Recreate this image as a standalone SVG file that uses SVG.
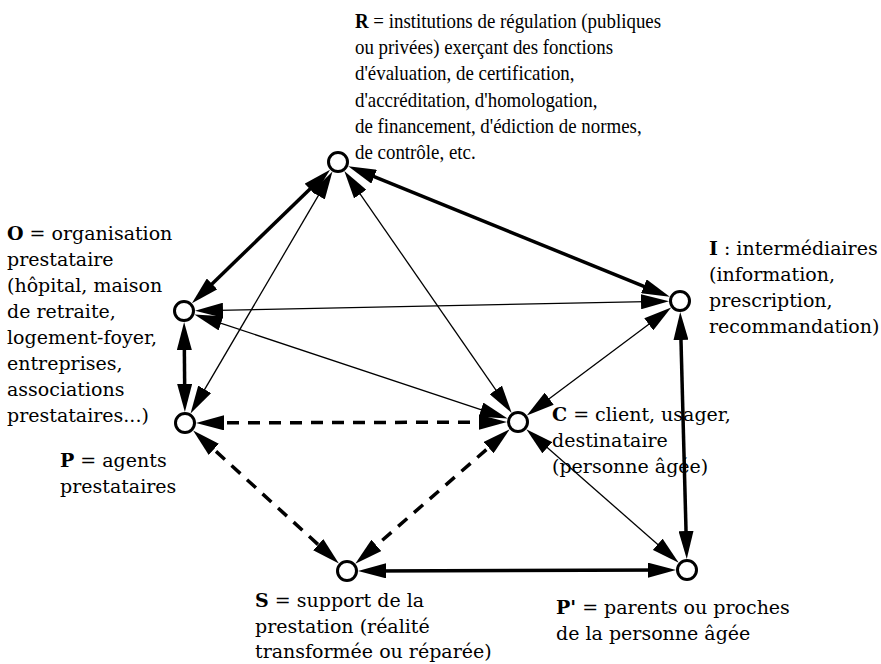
<svg xmlns="http://www.w3.org/2000/svg" width="881" height="664" viewBox="0 0 881 664">
<style>
.bg{fill:#fff}
.nd{fill:#fff;stroke:#000;stroke-width:3}
.thin{stroke:#000;stroke-width:1.3;fill:none;marker-start:url(#ah);marker-end:url(#ah)}
.thick{stroke:#000;stroke-width:3.5;fill:none;marker-start:url(#ah);marker-end:url(#ah)}
.dash{stroke:#000;stroke-width:3.5;fill:none;stroke-dasharray:12 9;marker-start:url(#ah);marker-end:url(#ah)}
.lbl{font-family:"DejaVu Serif","Liberation Serif",serif;font-size:19px;fill:#000}
.lblr{font-family:"Liberation Serif","Times New Roman",serif;font-size:21px;fill:#000}
.b{font-weight:bold}
</style>
<defs>
<marker id="ah" viewBox="0 0 28 15" refX="18" refY="7.5" markerWidth="28" markerHeight="15" markerUnits="userSpaceOnUse" orient="auto-start-reverse">
<path d="M0,0 L28,7.5 L0,15 z" fill="#000"/>
</marker>
</defs>
<rect class="bg" x="0" y="0" width="881" height="664"/>
<g id="connectors">
<line class="thick" x1="322.9" y1="176.6" x2="199.1" y2="296.4"/>
<line class="thick" x1="357.5" y1="169.9" x2="660.5" y2="293.1"/>
<line class="thin" x1="327.4" y1="180.1" x2="195.6" y2="404.9"/>
<line class="thin" x1="350.0" y1="179.3" x2="506.0" y2="404.7"/>
<line class="thin" x1="205" y1="310.6" x2="659" y2="301.4"/>
<line class="thin" x1="203.9" y1="317.6" x2="498.1" y2="415.4"/>
<line class="thick" x1="184.2" y1="332" x2="184.8" y2="402"/>
<line class="dash" x1="206" y1="422.9" x2="497" y2="422.1"/>
<line class="dash" x1="200.5" y1="437.2" x2="331.5" y2="556.8"/>
<line class="dash" x1="502.2" y1="435.8" x2="362.8" y2="557.2"/>
<line class="thin" x1="534.8" y1="409.4" x2="663.2" y2="313.6"/>
<line class="thin" x1="533.8" y1="435.8" x2="671.2" y2="556.2"/>
<line class="thick" x1="680.5" y1="322" x2="686.5" y2="549"/>
<line class="thick" x1="368" y1="570.9" x2="666" y2="570.1"/>
</g>
<g id="node-R">
<circle class="nd" cx="338" cy="162" r="9.5"/>
<text class="lblr" transform="translate(355,0) scale(0.9,1)">
<tspan x="0" y="28"><tspan class="b">R</tspan> = institutions de régulation (publiques</tspan>
<tspan x="0" y="54.2">ou privées) exerçant des fonctions</tspan>
<tspan x="0" y="80.4">d'évaluation, de certification,</tspan>
<tspan x="0" y="106.6">d'accréditation, d'homologation,</tspan>
<tspan x="0" y="132.8">de financement, d'édiction de normes,</tspan>
<tspan x="0" y="159">de contrôle, etc.</tspan>
</text>
</g>
<g id="node-O">
<circle class="nd" cx="184" cy="311" r="9.5"/>
<text class="lbl">
<tspan x="7" y="240"><tspan class="b">O</tspan> = organisation</tspan>
<tspan x="7" y="266">prestataire</tspan>
<tspan x="7" y="292">(hôpital, maison</tspan>
<tspan x="7" y="318">de retraite,</tspan>
<tspan x="7" y="344">logement-foyer,</tspan>
<tspan x="7" y="370">entreprises,</tspan>
<tspan x="7" y="396">associations</tspan>
<tspan x="7" y="422">prestataires...)</tspan>
</text>
</g>
<g id="node-P">
<circle class="nd" cx="185" cy="423" r="9.5"/>
<text class="lbl">
<tspan x="60" y="467"><tspan class="b">P</tspan> = agents</tspan>
<tspan x="60" y="493">prestataires</tspan>
</text>
</g>
<g id="node-C">
<circle class="nd" cx="518" cy="422" r="9.5"/>
<text class="lbl">
<tspan x="552" y="421"><tspan class="b">C</tspan> = client, usager,</tspan>
<tspan x="552" y="447">destinataire</tspan>
<tspan x="552" y="473">(personne âgée)</tspan>
</text>
</g>
<g id="node-I">
<circle class="nd" cx="680" cy="301" r="9.5"/>
<text class="lbl">
<tspan x="709" y="255"><tspan class="b">I</tspan> : intermédiaires</tspan>
<tspan x="709" y="281">(information,</tspan>
<tspan x="709" y="307">prescription,</tspan>
<tspan x="709" y="333">recommandation)</tspan>
</text>
</g>
<g id="node-S">
<circle class="nd" cx="347" cy="571" r="9.5"/>
<text class="lbl">
<tspan x="255" y="607"><tspan class="b">S</tspan> = support de la</tspan>
<tspan x="255" y="633">prestation (réalité</tspan>
<tspan x="255" y="658">transformée ou réparée)</tspan>
</text>
</g>
<g id="node-Pp">
<circle class="nd" cx="687" cy="570" r="9.5"/>
<text class="lbl">
<tspan x="556" y="614"><tspan class="b">P'</tspan> = parents ou proches</tspan>
<tspan x="556" y="640">de la personne âgée</tspan>
</text>
</g>
</svg>
